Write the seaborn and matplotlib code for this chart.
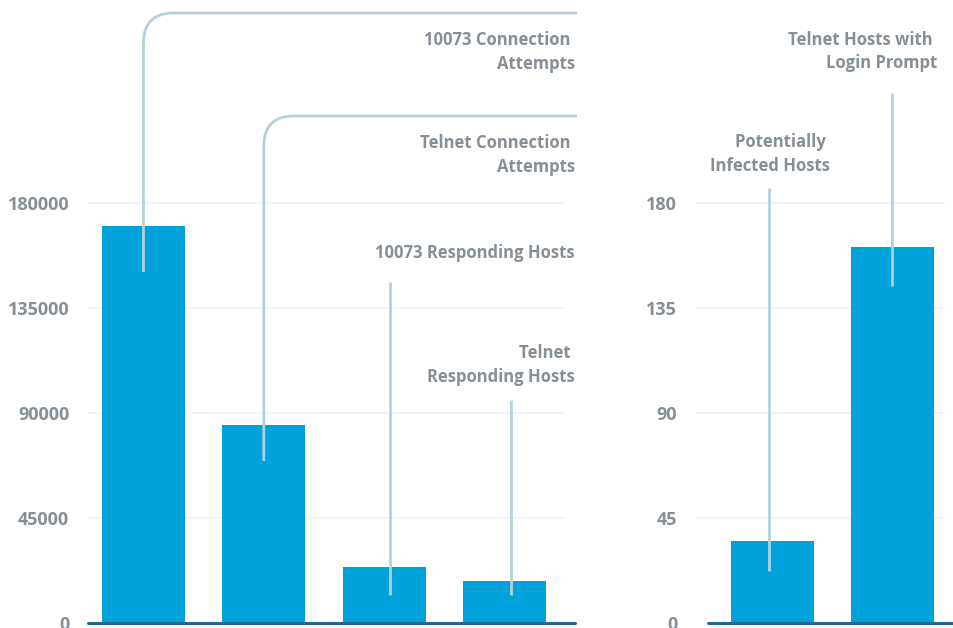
import matplotlib
matplotlib.use("Agg")
import matplotlib.pyplot as plt
from matplotlib.path import Path
from matplotlib.patches import PathPatch
import seaborn as sns
import pandas as pd

# ---- data ----
left_categories = ["10073 Connection Attempts", "Telnet Connection Attempts",
                   "10073 Responding Hosts", "Telnet Responding Hosts"]
left_values = [170000, 85000, 24000, 18000]
left_labels = ["10073 Connection \nAttempts", "Telnet Connection \nAttempts",
               "10073 Responding Hosts", "Telnet \nResponding Hosts"]
left_ticks = [0, 45000, 90000, 135000, 180000]

right_categories = ["Potentially Infected Hosts", "Telnet Hosts with Login Prompt"]
right_values = [35, 161]
right_labels = ["Potentially \nInfected Hosts", "Telnet Hosts with \nLogin Prompt"]
right_ticks = [0, 45, 90, 135, 180]

# ---- style ----
sns.set_theme(style="white")
plt.rcParams["font.family"] = ["Open Sans", "DejaVu Sans"]
plt.rcParams["font.weight"] = "bold"

BAR = "#00a2dc"
TXT = "#878f96"
LEAD = "#b4d1db"
BASE = "#1d6a94"
GRID = "#f1f5f6"
FS = 12
TFS = 13

W, H = 954, 628
fig = plt.figure(figsize=(W / 100, H / 100), dpi=100)

PX_Y = 623  # pixel row of zero line
ax1 = fig.add_axes([88 / W, (H - PX_Y) / H, (565 - 88) / W, PX_Y / H])
ax2 = fig.add_axes([696 / W, (H - PX_Y) / H, (945 - 696) / W, PX_Y / H])

scale_px = 420  # pixels from 0 to top tick


def setup(ax, cats, vals, ticks, xlim, base_from, base_to):
    df = pd.DataFrame({"cat": cats, "val": vals})
    sns.barplot(data=df, x="cat", y="val", ax=ax, color=BAR, width=0.69,
                saturation=1, zorder=2)
    for p in ax.patches:
        p.set_edgecolor("none")
    top = ticks[-1] * PX_Y / scale_px
    ax.set_ylim(0, top)
    ax.set_xlim(*xlim)
    ax.set_yticks(ticks)
    ax.set_yticklabels([str(t) for t in ticks], color=TXT, fontsize=TFS,
                       fontweight="bold")
    ax.tick_params(axis="y", length=0, pad=13.5)
    ax.set_xticks([])
    ax.set_xlabel("")
    ax.set_ylabel("")
    for s in ax.spines.values():
        s.set_visible(False)
    for t in ticks[1:]:
        ax.axhline(t, color=GRID, lw=1.5, zorder=0)
    ax.axhline(0, xmin=base_from, xmax=base_to, color=BASE, lw=2.2,
               zorder=4, clip_on=False)
    return top


left_xlim = (-0.461, 3.503)
right_xlim = (-0.6375, 1.4375)
top1 = setup(ax1, left_categories, left_values, left_ticks, left_xlim, 0.0, 1.021)
top2 = setup(ax2, right_categories, right_values, right_ticks, right_xlim, 0.048, 1.04)


def yv(px, ticks):
    return (PX_Y - px) / scale_px * ticks[-1]


def vline(ax, x, y0, y1):
    ax.plot([x, x], [y0, y1], color=LEAD, lw=2, zorder=5, clip_on=False,
            solid_capstyle="butt")


def corner(ax, x, y0, ytop, xend, rx, ry):
    verts = [(x, y0), (x, ytop - ry), (x, ytop), (x + rx, ytop), (xend, ytop)]
    codes = [Path.MOVETO, Path.LINETO, Path.CURVE3, Path.CURVE3, Path.LINETO]
    patch = PathPatch(Path(verts, codes), fill=False, edgecolor=LEAD, lw=2,
                      zorder=5, clip_on=False, capstyle="butt")
    ax.add_patch(patch)


# left panel leaders
step_l = (565 - 88) / (left_xlim[1] - left_xlim[0])
rx = 30 / step_l
ry = yv(PX_Y - 30, left_ticks)
xend = left_xlim[0] + (577 - 88) / step_l
corner(ax1, 0, yv(272, left_ticks), yv(13, left_ticks), xend, rx, ry)
corner(ax1, 1, yv(461, left_ticks), yv(116, left_ticks), xend, rx, ry)
vline(ax1, 2 + 6 / step_l, yv(595, left_ticks), yv(282, left_ticks))
vline(ax1, 3 + 6.5 / step_l, yv(595, left_ticks), yv(400, left_ticks))

xlab = left_xlim[0] + (575 - 88) / step_l
for lab, py in zip(left_labels, [52, 155, 253, 365]):
    ax1.text(xlab, yv(py, left_ticks), lab, ha="right", va="center",
             ma="right", fontsize=FS, fontweight="bold", color=TXT,
             linespacing=1.42, clip_on=False)

# right panel leaders
step_r = (945 - 696) / (right_xlim[1] - right_xlim[0])
vline(ax2, 0 - 3 / step_r, yv(571, right_ticks), yv(188, right_ticks))
vline(ax2, 1, yv(286, right_ticks), yv(93, right_ticks))
for lab, px, py in zip(right_labels, [830, 937], [154, 51.5]):
    ax2.text(right_xlim[0] + (px - 696) / step_r, yv(py, right_ticks), lab,
             ha="right", va="center", ma="right", fontsize=FS,
             fontweight="bold", color=TXT, linespacing=1.42, clip_on=False)

fig.savefig("out.png", dpi=100)
